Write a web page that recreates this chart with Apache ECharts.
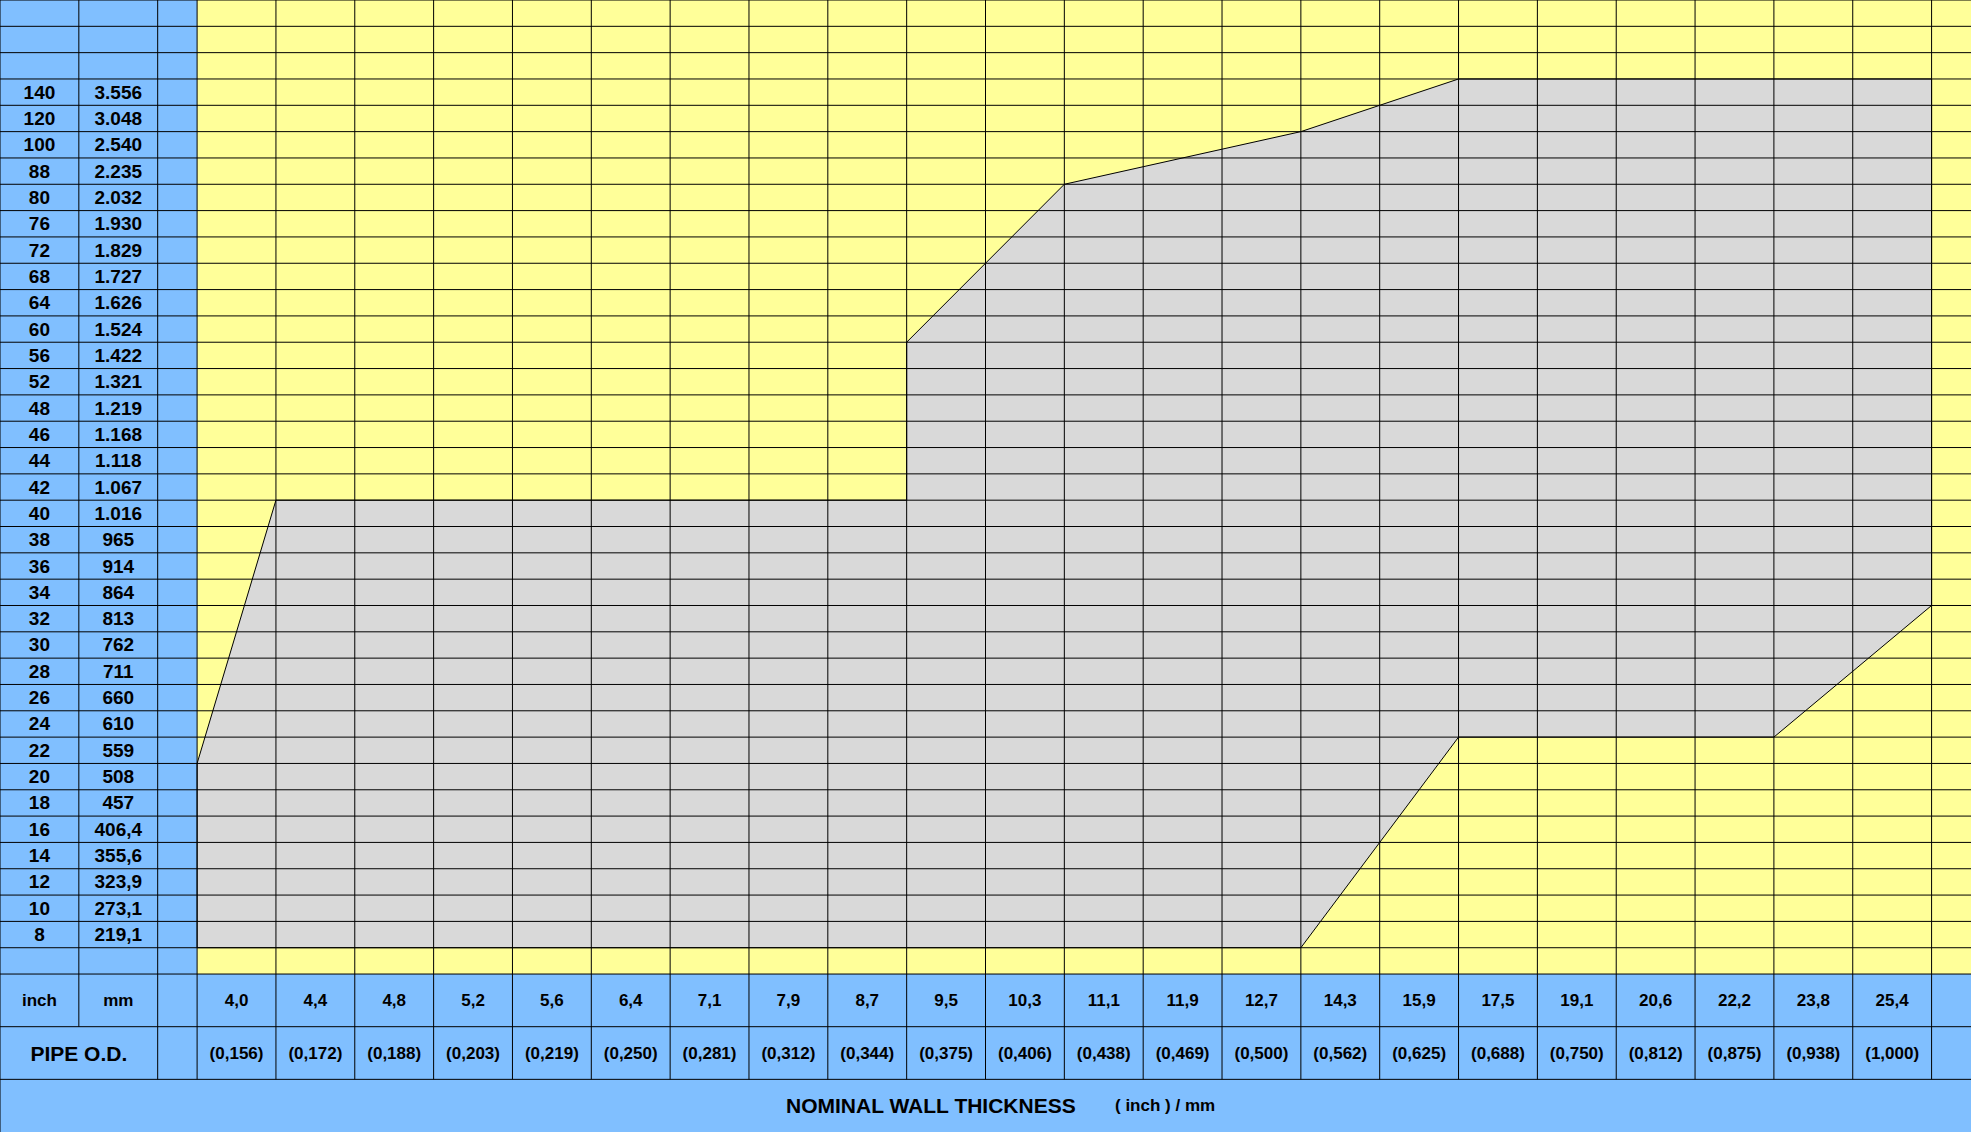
<!DOCTYPE html>
<html>
<head>
<meta charset="utf-8">
<title>Pipe O.D. / Nominal wall thickness</title>
<script src="https://cdn.jsdelivr.net/npm/echarts@6.0.0/dist/echarts.min.js"></script>
<style>
    html, body { margin: 0; padding: 0; background: #fff; }
    #chart { width: 1971px; height: 1132px; }
</style>
</head>
<body>
<div id="chart"></div>
<script>
// pipe outside diameter, top row first
var odInch = ['140', '120', '100', '88', '80', '76', '72', '68', '64', '60', '56', '52', '48', '46', '44', '42', '40',
    '38', '36', '34', '32', '30', '28', '26', '24', '22', '20', '18', '16', '14', '12', '10', '8'];
var odMm = ['3.556', '3.048', '2.540', '2.235', '2.032', '1.930', '1.829', '1.727', '1.626', '1.524', '1.422', '1.321',
    '1.219', '1.168', '1.118', '1.067', '1.016', '965', '914', '864', '813', '762', '711', '660', '610', '559', '508',
    '457', '406,4', '355,6', '323,9', '273,1', '219,1'];

// nominal wall thickness, left column first
var wallMm = ['4,0', '4,4', '4,8', '5,2', '5,6', '6,4', '7,1', '7,9', '8,7', '9,5', '10,3', '11,1', '11,9', '12,7',
    '14,3', '15,9', '17,5', '19,1', '20,6', '22,2', '23,8', '25,4'];
var wallInch = ['(0,156)', '(0,172)', '(0,188)', '(0,203)', '(0,219)', '(0,250)', '(0,281)', '(0,312)', '(0,344)',
    '(0,375)', '(0,406)', '(0,438)', '(0,469)', '(0,500)', '(0,562)', '(0,625)', '(0,688)', '(0,750)', '(0,812)',
    '(0,875)', '(0,938)', '(1,000)'];

// grey range outline, [wall column line, o.d. row line]
var rangeTop = [[0, 26], [1, 16], [9, 16], [9, 10], [11, 4], [14, 2], [16, 0], [22, 0]];
var rangeBottom = [[22, 20], [20, 25], [16, 25], [14, 33], [0, 33]];

var BLUE = '#80bfff', YELLOW = '#ffff99', GREY = '#d9d9d9', LINE = '#000';

// whole table in cell units: 2 label cols + half col + wall cols + half col,
// 3 blank rows + o.d. rows + 1 blank row + 3 double height header rows
var nCol = wallMm.length, nRow = odInch.length;
var COL0 = 2.5, ROW0 = 3;
var COLS = COL0 + nCol + 0.5;
var BODY = ROW0 + nRow + 1;
var ROWS = BODY + 6;
var W = 1971, H = 1132;
var ux = W / COLS, uy = H / ROWS;

var chart = echarts.init(document.getElementById('chart'), null, {renderer: 'svg'});

function renderBack(params, api) {
    var children = [];

    function rect(x0, y0, x1, y1, color) {
        var a = api.coord([x0, y0]), b = api.coord([x1, y1]);
        children.push({
            type: 'rect',
            shape: {x: a[0], y: a[1], width: b[0] - a[0], height: b[1] - a[1]},
            style: {fill: color}
        });
    }

    rect(0, 0, COL0, BODY, BLUE);
    rect(COL0, 0, COLS, BODY, YELLOW);
    rect(0, BODY, COLS, ROWS, BLUE);
    return {type: 'group', children: children};
}

function renderLines(params, api) {
    var children = [];

    function line(x0, y0, x1, y1) {
        var a = api.coord([x0, y0]), b = api.coord([x1, y1]);
        children.push({
            type: 'line',
            shape: {x1: a[0], y1: a[1], x2: b[0], y2: b[1]},
            style: {stroke: LINE, lineWidth: 1}
        });
    }

    var i;
    for (i = 0; i <= BODY; i++) {
        line(0, i, COLS, i);
    }
    line(0, BODY + 2, COLS, BODY + 2);
    line(0, BODY + 4, COLS, BODY + 4);

    line(0, 0, 0, ROWS);
    line(1, 0, 1, BODY + 2);
    line(2, 0, 2, BODY + 4);
    for (i = 0; i <= nCol; i++) {
        line(COL0 + i, 0, COL0 + i, BODY + 4);
    }
    return {type: 'group', children: children};
}

function renderRange(params, api) {
    var pts = rangeTop.concat(rangeBottom).map(function (p) {
        return api.coord(p);
    });
    return {
        type: 'polygon',
        shape: {points: pts},
        style: {fill: GREY, stroke: LINE, lineWidth: 1}
    };
}

var labelFont = {
    fontFamily: 'Liberation Sans',
    fontWeight: 'bold',
    color: '#000'
};

function catAxis(gridIndex, data, position, margin, size, vertical) {
    var label = Object.assign({
        interval: 0,
        margin: margin,
        fontSize: size,
        align: 'center'
    }, labelFont);
    if (!vertical) {
        label.verticalAlign = 'middle';
    }
    return {
        type: 'category',
        gridIndex: gridIndex,
        data: data,
        position: position,
        inverse: vertical,
        z: 10,
        axisLine: {show: false},
        axisTick: {show: false},
        splitLine: {show: false},
        axisLabel: label
    };
}

var gridB = {
    left: COL0 * ux,
    right: (COLS - COL0 - nCol) * ux,
    top: ROW0 * uy,
    bottom: (ROWS - ROW0 - nRow) * uy
};

function headText(x, y, text, font, align) {
    return {
        type: 'text', x: x, y: y, z: 100,
        style: {text: text, align: align || 'center', verticalAlign: 'middle', font: font, fill: '#000'}
    };
}

var option = {
    animation: false,
    grid: [
        {left: 0, right: 0, top: 0, bottom: 0},
        gridB
    ],
    xAxis: [
        {type: 'value', gridIndex: 0, min: 0, max: COLS, show: false},
        catAxis(1, wallMm, 'bottom', (BODY + 1 - ROW0 - nRow) * uy, 17, false),
        catAxis(1, wallInch, 'bottom', (BODY + 3 - ROW0 - nRow) * uy, 17, false),
        {type: 'value', gridIndex: 1, min: 0, max: nCol, show: false}
    ],
    yAxis: [
        {type: 'value', gridIndex: 0, min: 0, max: ROWS, inverse: true, show: false},
        catAxis(1, odInch, 'left', (COL0 - 0.5) * ux, 19, true),
        catAxis(1, odMm, 'left', (COL0 - 1.5) * ux, 19, true),
        {type: 'value', gridIndex: 1, min: 0, max: nRow, inverse: true, show: false}
    ],
    series: [
        {
            type: 'custom',
            xAxisIndex: 0,
            yAxisIndex: 0,
            z: 1,
            silent: true,
            renderItem: renderBack,
            data: [[0, 0]]
        },
        {
            type: 'custom',
            xAxisIndex: 3,
            yAxisIndex: 3,
            z: 2,
            silent: true,
            renderItem: renderRange,
            data: [[0, 0]]
        },
        {
            type: 'custom',
            xAxisIndex: 0,
            yAxisIndex: 0,
            z: 3,
            silent: true,
            renderItem: renderLines,
            data: [[0, 0]]
        }
    ],
    graphic: [
        headText(0.5 * ux, (BODY + 1) * uy, 'inch', 'bold 17px "Liberation Sans"'),
        headText(1.5 * ux, (BODY + 1) * uy, 'mm', 'bold 17px "Liberation Sans"'),
        headText(1 * ux, (BODY + 3) * uy, 'PIPE O.D.', 'bold 21px "Liberation Sans"'),
        headText(786, (BODY + 5) * uy, 'NOMINAL WALL THICKNESS', 'bold 21px "Liberation Sans"', 'left'),
        headText(1115, (BODY + 5) * uy, '( inch ) / mm', 'bold 17px "Liberation Sans"', 'left')
    ]
};

chart.setOption(option);
</script>
</body>
</html>
